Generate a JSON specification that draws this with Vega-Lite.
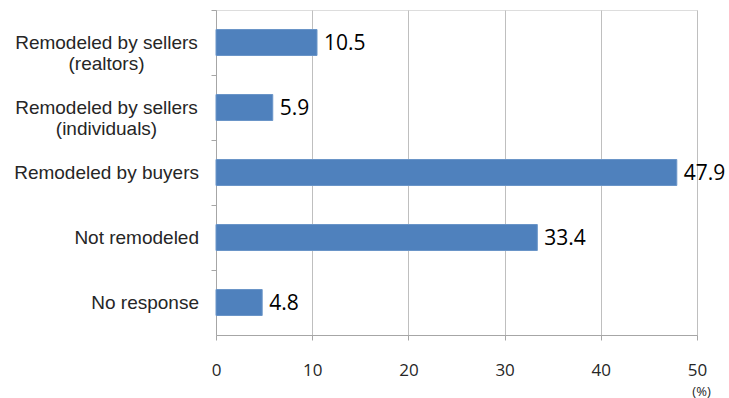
{
  "$schema": "https://vega.github.io/schema/vega-lite/v6.json",
  "width": 481,
  "height": 325,
  "autosize": "none",
  "padding": {"left": 216, "top": 10, "right": 32, "bottom": 63},
  "background": "white",
  "data": {
    "values": [
      {"category": "Remodeled by sellers|(realtors)", "value": 10.5},
      {"category": "Remodeled by sellers|(individuals)", "value": 5.9},
      {"category": "Remodeled by buyers", "value": 47.9},
      {"category": "Not remodeled", "value": 33.4},
      {"category": "No response", "value": 4.8}
    ]
  },
  "encoding": {
    "y": {
      "field": "category",
      "type": "nominal",
      "sort": null,
      "scale": {"paddingInner": 0.6, "paddingOuter": 0.3},
      "axis": {
        "title": null,
        "labels": false,
        "tickOffset": -32.5,
        "tickSize": 5,
        "tickColor": "#A6A6A6",
        "domainColor": "#A6A6A6"
      }
    }
  },
  "layer": [
    {
      "mark": {"type": "bar", "color": "#4F81BD", "stroke": "#6A95C8", "strokeWidth": 1},
      "encoding": {
        "x": {
          "field": "value",
          "type": "quantitative",
          "scale": {"domain": [0, 50], "nice": false},
          "axis": {
            "values": [0, 10, 20, 30, 40, 50],
            "grid": true,
            "gridColor": "#BFBFBF",
            "tickSize": 5,
            "tickColor": "#A6A6A6",
            "domainColor": "#A6A6A6",
            "labelFont": "Open Sans",
            "labelFontSize": 17,
            "labelColor": "#262626",
            "labelPadding": 22,
            "labelFlush": false,
            "title": "(%)",
            "titleFont": "Open Sans",
            "titleFontSize": 13,
            "titleFontWeight": "normal",
            "titleColor": "#262626",
            "titleAlign": "center",
            "titleBaseline": "middle",
            "titleX": 485,
            "titleY": 56
          }
        }
      }
    },
    {
      "mark": {"type": "text", "align": "left", "baseline": "middle", "dx": 7, "dy": 1, "font": "Open Sans", "fontSize": 21, "color": "#000000"},
      "encoding": {
        "x": {"field": "value", "type": "quantitative"},
        "text": {"field": "value", "type": "quantitative", "format": ".1f"}
      }
    },
    {
      "transform": [{"filter": "indexof(datum.category, '|') >= 0"}],
      "mark": {"type": "text", "align": "center", "baseline": "middle", "dx": -109.5, "lineBreak": "|", "lineHeight": 21, "font": "Liberation Sans", "fontSize": 19, "color": "#262626"},
      "encoding": {
        "x": {"datum": 0, "type": "quantitative"},
        "text": {"field": "category", "type": "nominal"}
      }
    },
    {
      "transform": [{"filter": "indexof(datum.category, '|') < 0"}],
      "mark": {"type": "text", "align": "right", "baseline": "middle", "dx": -17, "font": "Liberation Sans", "fontSize": 19, "color": "#262626"},
      "encoding": {
        "x": {"datum": 0, "type": "quantitative"},
        "text": {"field": "category", "type": "nominal"}
      }
    }
  ]
}
